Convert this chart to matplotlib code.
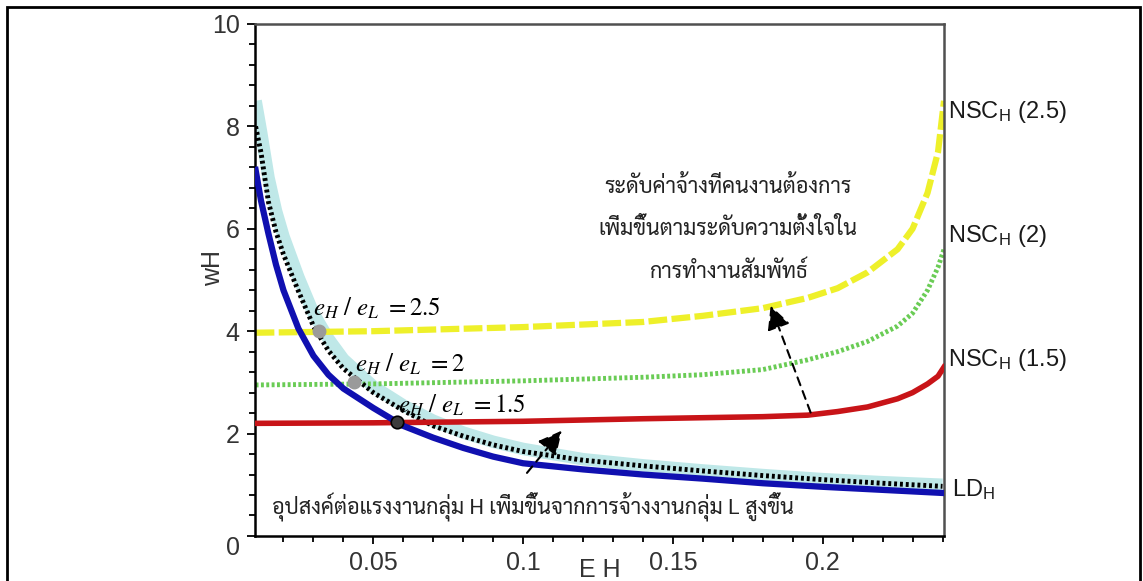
import matplotlib
matplotlib.use("Agg")
import matplotlib.pyplot as plt
from matplotlib.patches import Rectangle
from matplotlib.ticker import MultipleLocator

plt.rcParams["font.family"] = ["Liberation Sans", "DejaVu Sans"]
plt.rcParams["mathtext.fontset"] = "stix"

THAI = ["Sarabun", "Loma", "DejaVu Sans"]

# labour demand curve and its two shifted copies (E_H on x, w_H on y)
e_grid = [0.0107, 0.0125, 0.015, 0.0175, 0.02, 0.025, 0.03, 0.035, 0.04, 0.05, 0.06,
          0.07, 0.08, 0.09, 0.1, 0.12, 0.14, 0.16, 0.18, 0.2, 0.22, 0.24]
ld_h = [7.15, 6.55, 5.9, 5.3, 4.8, 4.05, 3.52, 3.15, 2.88, 2.5, 2.15,
        1.92, 1.72, 1.55, 1.42, 1.3, 1.2, 1.12, 1.03, 0.96, 0.9, 0.84]
ld_shift = [8.0, 7.49, 6.52, 5.94, 5.5, 4.78, 4.1, 3.62, 3.27, 2.8, 2.45,
            2.15, 1.95, 1.78, 1.65, 1.48, 1.37, 1.27, 1.18, 1.1, 1.03, 0.97]
ld_shift2 = [8.5, 7.9, 7.0, 6.35, 5.85, 5.05, 4.35, 3.85, 3.45, 2.92, 2.55,
             2.25, 2.02, 1.84, 1.7, 1.5, 1.38, 1.28, 1.19, 1.11, 1.05, 1.0]

# no-shirking wage constraints for e_H/e_L = 2.5, 2, 1.5
nsc_grid = [0.0107, 0.05, 0.1, 0.14, 0.16, 0.18, 0.195, 0.205, 0.215, 0.225,
            0.23, 0.235, 0.2385, 0.2405]
nsc_25 = [3.97, 4.0, 4.08, 4.18, 4.3, 4.45, 4.65, 4.84, 5.15, 5.6, 6.0, 6.7, 7.5, 8.5]
nsc_2 = [2.95, 2.97, 3.03, 3.1, 3.15, 3.25, 3.44, 3.6, 3.8, 4.1, 4.35, 4.8, 5.25, 5.6]
nsc_15 = [2.2, 2.21, 2.24, 2.29, 2.31, 2.33, 2.36, 2.43, 2.52, 2.68, 2.8, 2.97, 3.12, 3.3]

# equilibrium points
eq_x = [0.0317, 0.0437, 0.058]
eq_y = [4.0, 3.0, 2.23]
ratios = ["2.5", "2", "1.5"]

fig = plt.figure(figsize=(11.43, 5.81), dpi=100)
ax = fig.add_axes([0.2231, 0.0775, 0.6028, 0.8812])

ax.plot(e_grid, ld_shift2, color="#bfe8e8", lw=9, solid_capstyle="butt", zorder=2)
ax.plot(e_grid, ld_shift, color="black", lw=3.5, dashes=(0.6, 0.6), zorder=3)
ax.plot(e_grid, ld_h, color="#1010b0", lw=4.5, zorder=4)

ax.plot(nsc_grid, nsc_25, color="#eef02a", lw=4.5, dashes=(3.0, 0.7), zorder=2)
ax.plot(nsc_grid, nsc_2, color="#6acc55", lw=3.5, dashes=(0.6, 0.5), zorder=2)
ax.plot(nsc_grid, nsc_15, color="#c81418", lw=4, zorder=3)

ax.plot(eq_x[:2], eq_y[:2], "o", color="#9a9a9a", ms=9, zorder=6)
ax.plot(eq_x[2:], eq_y[2:], "o", mfc="#3c3c3c", mec="black", mew=1.2, ms=9, zorder=6)

lbl_pos = [(0.030, 4.45), (0.044, 3.36), (0.0583, 2.55)]
for (lx, ly), r in zip(lbl_pos, ratios):
    ax.text(lx, ly, r"$e_H\ /\ e_L\ = " + r + "$", fontsize=18, va="center", ha="left", zorder=7)

arrow_kw = dict(arrowstyle="-|>", color="black", lw=1.5, linestyle=(0, (4, 3)), mutation_scale=36)
ax.annotate("", xy=(0.1823, 4.55), xytext=(0.1963, 2.36), arrowprops=arrow_kw, zorder=7)
ax.annotate("", xy=(0.1135, 2.1), xytext=(0.1007, 1.19), arrowprops=arrow_kw, zorder=7)

ax.set_xlim(0.0105, 0.2405)
ax.set_ylim(0, 10)
ax.set_xticks([0.05, 0.1, 0.15, 0.2])
ax.set_xticklabels(["0.05", "0.1", "0.15", "0.2"])
ax.xaxis.set_minor_locator(MultipleLocator(0.01))
ax.set_yticks([0, 2, 4, 6, 8, 10])
ax.yaxis.set_minor_locator(MultipleLocator(0.4))
ax.tick_params(which="major", direction="out", length=6, width=1.3, labelsize=18,
               labelcolor="#333333", pad=5)
ax.tick_params(which="minor", direction="out", length=4, width=1.3)
ax.yaxis.get_major_ticks()[0].label1.set_verticalalignment("top")

for side in ("left", "bottom"):
    ax.spines[side].set_linewidth(1.8)
    ax.spines[side].set_color("black")
for side in ("top", "right"):
    ax.spines[side].set_linewidth(1.8)
    ax.spines[side].set_color("#505050")

ax.set_xlabel("E H", fontsize=18, color="#333333", va="center")
ax.xaxis.set_label_coords(0.5, -0.066)
ax.set_ylabel("wH", fontsize=18, color="#333333", va="center")
ax.yaxis.set_label_coords(-0.061, 0.523)

# curve names at the right edge
names = [(r"NSC$_\mathregular{H}$ (2.5)", 0.828, 1.006),
         (r"NSC$_\mathregular{H}$ (2)", 0.586, 1.006),
         (r"NSC$_\mathregular{H}$ (1.5)", 0.343, 1.006),
         (r"LD$_\mathregular{H}$", 0.09, 1.012)]
for txt, ty, tx in names:
    ax.text(tx, ty, txt, transform=ax.transAxes, fontsize=17, va="center", ha="left",
            color="#1a1a1a")

note_top = ["ระดับค่าจ้างที่คนงานต้องการ", "เพิ่มขึ้นตามระดับความตั้งใจใน", "การทำงานสัมพัทธ์"]
for i, line in enumerate(note_top):
    ax.text(0.6865, 0.682 - i * 0.083, line, transform=ax.transAxes, ha="center",
            va="center", fontsize=15.5, family=THAI, color="#222222")
ax.text(0.0247, 0.058, "อุปสงค์ต่อแรงงานกลุ่ม H เพิ่มขึ้นจากการจ้างงานกลุ่ม L สูงขึ้น",
        transform=ax.transAxes, ha="left", va="center", fontsize=15.5, family=THAI,
        color="#222222")

fig.patches.append(Rectangle((7 / 1143, -0.05), 1133 / 1143, 1.05 - 7 / 581,
                             transform=fig.transFigure, fill=False, lw=2,
                             edgecolor="black", clip_on=False))

fig.savefig("out.png", dpi=100)
